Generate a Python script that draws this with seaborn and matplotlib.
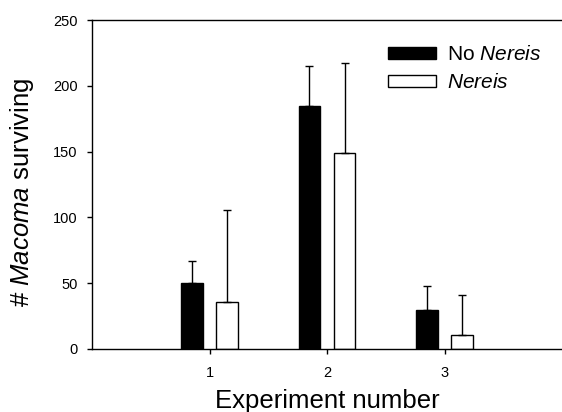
import numpy as np
import pandas as pd
import matplotlib
matplotlib.use("Agg")
import matplotlib.pyplot as plt
import seaborn as sns

# Survival counts per experiment, with upper standard-error lengths
experiments = ["1", "2", "3"]
treatments = ["No Nereis", "Nereis"]
no_nereis_mean = [50, 185, 30]
no_nereis_err = [17, 30, 18]
nereis_mean = [36, 149, 11]
nereis_err = [70, 68, 30]
y_ticks = [0, 50, 100, 150, 200, 250]

df = pd.DataFrame({
    "experiment": experiments * 2,
    "treatment": [treatments[0]] * 3 + [treatments[1]] * 3,
    "surviving": no_nereis_mean + nereis_mean,
    "err": no_nereis_err + nereis_err,
})

sns.set_style("ticks")
plt.rcParams["font.family"] = ["Liberation Sans", "DejaVu Sans"]
plt.rcParams["mathtext.fontset"] = "custom"
plt.rcParams["mathtext.rm"] = "Liberation Sans"
plt.rcParams["mathtext.it"] = "Liberation Sans:italic"
plt.rcParams["text.color"] = "black"
plt.rcParams["axes.labelcolor"] = "black"

fig = plt.figure(figsize=(5.62, 4.12), dpi=100)
ax = fig.add_axes([92 / 562, 63 / 412, 470 / 562, 329 / 412])

sns.barplot(
    data=df, x="experiment", y="surviving", hue="treatment",
    hue_order=treatments, order=experiments,
    palette={"No Nereis": "black", "Nereis": "white"},
    width=0.6, gap=0.39, edgecolor="black", linewidth=1.0,
    errorbar=None, ax=ax, legend=True,
)

# One-sided (upper) error bars placed at each bar's centre
bars = [p for p in ax.patches if p.get_height() > 0]
for bar, (_, row) in zip(bars, df.iterrows()):
    xc = bar.get_x() + bar.get_width() / 2
    ax.errorbar(xc, row["surviving"], yerr=[[0], [row["err"]]],
                fmt="none", ecolor="black", elinewidth=1.0,
                capsize=3.2, capthick=1.0, zorder=1)

ax.set_xlim(-1, 3)
ax.set_ylim(0, 250)
ax.set_yticks(y_ticks)
ax.tick_params(axis="both", direction="out", length=3.5, width=1.0,
               labelsize=10.5, colors="black", labelcolor="black")
ax.tick_params(axis="y", pad=7)
ax.tick_params(axis="x", pad=9)
for side in ("left", "bottom", "top"):
    ax.spines[side].set_linewidth(1.0)
    ax.spines[side].set_color("black")
ax.spines["right"].set_visible(False)

ax.set_xlabel("Experiment number", fontsize=18.5, labelpad=6)
ax.set_ylabel("# $\\mathit{Macoma}$ surviving", fontsize=18.5)
ax.yaxis.set_label_coords(-0.12, 0.477)

handles, _ = ax.get_legend_handles_labels()
ax.legend(handles, ["No $\\mathit{Nereis}$", "$\\mathit{Nereis}$"],
          loc="upper left", bbox_to_anchor=(388 / 562, 1 - 45 / 412),
          bbox_transform=fig.transFigure, frameon=False, fontsize=15,
          handlelength=2.3, handleheight=0.5, handletextpad=0.55,
          labelspacing=0.45, borderpad=0, borderaxespad=0)

fig.savefig("out.png", dpi=100)
